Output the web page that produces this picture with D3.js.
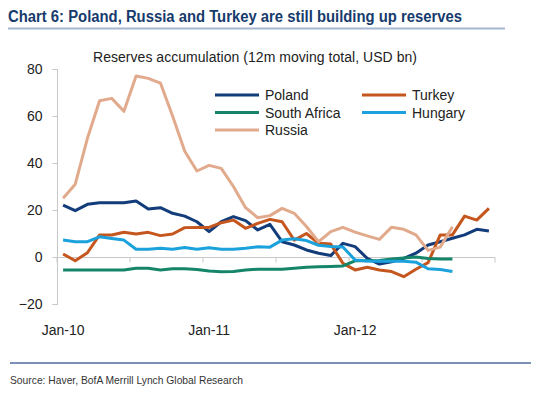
<!DOCTYPE html>
<html><head><meta charset="utf-8">
<script src="https://cdn.jsdelivr.net/npm/d3@7"></script>
<style>body{margin:0;background:#fff;}svg{display:block;font-family:"Liberation Sans",Arial,sans-serif;}</style>
</head><body>
<script>
const months = ["Jan-10","Feb-10","Mar-10","Apr-10","May-10","Jun-10","Jul-10","Aug-10","Sep-10","Oct-10","Nov-10","Dec-10",
"Jan-11","Feb-11","Mar-11","Apr-11","May-11","Jun-11","Jul-11","Aug-11","Sep-11","Oct-11","Nov-11","Dec-11",
"Jan-12","Feb-12","Mar-12","Apr-12","May-12","Jun-12","Jul-12","Aug-12","Sep-12","Oct-12","Nov-12","Dec-12"];
const xLabels = ["Jan-10","Jan-11","Jan-12"];
const yTicks = [-20, 0, 20, 40, 60, 80];
const poland = [22.1,19.7,22.4,23.1,23.1,23.1,23.8,20.4,21.0,18.6,17.4,15.0,10.8,15.0,17.2,15.5,11.5,13.9,6.5,5.1,3.0,1.6,0.6,5.8,4.4,-0.6,-3.0,-2.0,-0.6,1.6,5.1,6.5,8.0,9.4,11.8,11.1];
const turkey = [1.3,-1.6,1.8,9.4,9.4,10.5,9.8,10.5,9.1,9.8,12.5,12.6,12.6,14.6,15.7,12.2,14.3,16.0,15.0,7.2,10.0,5.8,5.5,-2.7,-5.5,-4.4,-5.5,-6.2,-8.4,-5.2,-2.4,9.4,9.4,17.4,15.7,20.7];
const southAfrica = [-5.5,-5.5,-5.5,-5.5,-5.5,-5.5,-4.8,-4.8,-5.5,-5.0,-5.0,-5.3,-6.0,-6.3,-6.2,-5.5,-5.2,-5.2,-5.2,-4.8,-4.4,-4.2,-4.0,-3.8,-1.6,-1.6,-1.5,-0.8,-0.4,0.0,-0.6,-0.8,-0.8];
const hungary = [7.2,6.5,6.5,8.6,7.9,7.2,3.3,3.3,3.7,3.3,4.0,3.3,3.9,3.3,3.3,3.7,4.4,4.2,7.2,7.8,7.0,5.0,4.5,4.3,-1.3,-1.7,-1.8,-1.8,-1.8,-2.2,-5.0,-5.3,-6.2];
const russia = [25,31,50.5,66.5,67.5,62,77,76,74,60,45,36.6,39,37.7,30,21,16.7,17.6,20.7,18.6,13,6.5,10.8,12.6,10.6,9,7.5,12.7,11.8,9.4,2.8,4.2,12.9];
const seriesNames = ["Poland","Turkey","South Africa","Hungary","Russia"];
const seriesData = [poland, turkey, southAfrica, hungary, russia];
const seriesColors = ["#123c7a","#c5561d","#15856a","#1ba2dc","#e2aa8c"];

const W = 550, H = 402;
const svg = d3.select("body").append("svg").attr("width", W).attr("height", H);

// title
svg.append("text").attr("x", 8).attr("y", 22).attr("font-size", 16).attr("font-weight", "bold")
  .attr("fill", "#173b6c").attr("textLength", 454).attr("lengthAdjust", "spacingAndGlyphs")
  .text("Chart 6: Poland, Russia and Turkey are still building up reserves");
svg.append("line").attr("x1", 8).attr("x2", 505).attr("y1", 28.5).attr("y2", 28.5)
  .attr("stroke", "#a5b7d0").attr("stroke-width", 2);

// subtitle
svg.append("text").attr("x", 93).attr("y", 62).attr("font-size", 14).attr("fill", "#222")
  .attr("textLength", 324).attr("lengthAdjust", "spacing")
  .text("Reserves accumulation (12m moving total, USD bn)");

const x = d3.scaleBand().domain(months).range([57, 495]).padding(0);
const xc = d => x(d) + x.bandwidth() / 2;
const y = d3.scaleLinear().domain([-20, 80]).range([304, 69]);

// y axis
const yAxis = d3.axisLeft(y).tickValues(yTicks).tickSize(5).tickPadding(10).tickFormat(d3.format("d"));
const gy = svg.append("g").attr("transform", "translate(57.5,0)").call(yAxis);
gy.select(".domain").attr("stroke", "#c8c8c8").attr("d", `M-5,${y(80)+0.5}H0V${y(-20)+0.5}H-5`);
gy.selectAll(".tick line").attr("stroke", "#c8c8c8");
gy.selectAll(".tick text").attr("font-size", 14).attr("fill", "#222").attr("font-family", "Liberation Sans, Arial, sans-serif");

// x axis at zero
const tickMonths = months.filter((m, i) => i % 6 === 0);
const gx = svg.append("g").attr("transform", `translate(0,${Math.round(y(0))+0.5})`);
gx.append("line").attr("x1", 57).attr("x2", 495).attr("stroke", "#c8c8c8");
gx.selectAll("line.t").data(tickMonths.concat(["__end"])).enter().append("line").attr("class", "t")
  .attr("x1", d => d === "__end" ? 495 : x(d)).attr("x2", d => d === "__end" ? 495 : x(d))
  .attr("y1", 0).attr("y2", 5).attr("stroke", "#c8c8c8");

// x labels
svg.selectAll("text.xl").data(xLabels).enter().append("text").attr("class", "xl")
  .attr("x", d => xc(d)).attr("y", 335).attr("text-anchor", "middle").attr("font-size", 14).attr("fill", "#222")
  .text(d => d);

// lines
const line = d3.line().x((d, i) => xc(months[i])).y(d => y(d));
seriesData.forEach((s, k) => {
  svg.append("path").datum(s).attr("d", line).attr("fill", "none")
    .attr("stroke", seriesColors[k]).attr("stroke-width", 3).attr("stroke-linejoin", "round");
});

// legend
const legPos = [[215, 95], [362, 95], [215, 112.5], [362, 112.5], [215, 130]];
seriesNames.forEach((n, k) => {
  const [lx, ly] = legPos[k];
  svg.append("line").attr("x1", lx).attr("x2", lx + 44).attr("y1", ly).attr("y2", ly)
    .attr("stroke", seriesColors[k]).attr("stroke-width", 3);
  svg.append("text").attr("x", lx + 50).attr("y", ly + 5).attr("font-size", 14).attr("fill", "#222").text(n);
});

// footer
svg.append("line").attr("x1", 10).attr("x2", 531).attr("y1", 363).attr("y2", 363)
  .attr("stroke", "#4f6e9c").attr("stroke-width", 1.5);
svg.append("text").attr("x", 10).attr("y", 384).attr("font-size", 10.5).attr("fill", "#333")
  .attr("textLength", 233).attr("lengthAdjust", "spacingAndGlyphs")
  .text("Source: Haver, BofA Merrill Lynch Global Research");
</script>
</body></html>
